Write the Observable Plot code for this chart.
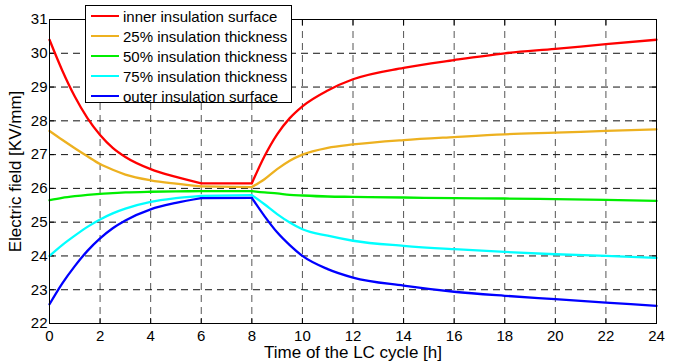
<!DOCTYPE html>
<html>
<head>
<meta charset="utf-8">
<script src="https://cdn.jsdelivr.net/npm/d3@7"></script>
<script src="https://cdn.jsdelivr.net/npm/@observablehq/plot@0.6"></script>
<style>
  html, body { margin: 0; padding: 0; background: #fff; }
  #wrap { position: relative; width: 685px; height: 364px; font-family: "Liberation Sans", Arial, sans-serif; }
  #legend { position: absolute; left: 85px; top: 5px; width: 205px; height: 96px; border: 1px solid #000; background: #fff; box-sizing: content-box; }
  .row { position: absolute; left: 0; height: 20px; display: flex; align-items: center; font-size: 15px; color: #000; white-space: nowrap; }
  .sw { display: inline-block; width: 28px; height: 2.5px; margin-left: 5px; margin-right: 4px; }
</style>
</head>
<body>
<div id="wrap"></div>
<script>
const seriesNames = ["inner insulation surface", "25% insulation thickness", "50% insulation thickness", "75% insulation thickness", "outer insulation surface"];
const seriesColors = ["#ff0000", "#edb120", "#00ee00", "#00ffff", "#0000ff"];
const hours = [0, 0.5, 1, 1.5, 2, 2.5, 3, 4, 5, 6, 8, 8.5, 9, 9.5, 10, 11, 12, 14, 16, 18, 20, 22, 24];
const inner = [30.4, 29.5, 28.72, 28.08, 27.58, 27.2, 26.93, 26.57, 26.34, 26.15, 26.15, 26.95, 27.6, 28.08, 28.43, 28.9, 29.23, 29.57, 29.8, 30.0, 30.13, 30.27, 30.4];
const q25 = [27.7, 27.44, 27.19, 26.95, 26.72, 26.55, 26.41, 26.24, 26.14, 26.06, 26.04, 26.27, 26.57, 26.82, 27.0, 27.2, 27.3, 27.43, 27.52, 27.6, 27.65, 27.7, 27.75];
const q50 = [25.65, 25.72, 25.77, 25.81, 25.84, 25.86, 25.88, 25.9, 25.91, 25.92, 25.92, 25.88, 25.85, 25.81, 25.79, 25.76, 25.75, 25.73, 25.71, 25.7, 25.68, 25.66, 25.63];
const q75 = [24.0, 24.32, 24.6, 24.86, 25.08, 25.26, 25.4, 25.6, 25.71, 25.78, 25.8, 25.53, 25.24, 24.99, 24.79, 24.6, 24.45, 24.3, 24.2, 24.12, 24.05, 24.0, 23.94];
const outer = [22.57, 23.18, 23.7, 24.15, 24.52, 24.82, 25.05, 25.38, 25.57, 25.71, 25.72, 25.18, 24.7, 24.32, 24.0, 23.61, 23.36, 23.12, 22.94, 22.82, 22.72, 22.62, 22.52];
// phases of the load cycle: decay, plateau, recovery
const phases = [[0, 6], [6, 8], [8, 24]];
const xTicks = [0, 2, 4, 6, 8, 10, 12, 14, 16, 18, 20, 22, 24];
const yTicks = [22, 23, 24, 25, 26, 27, 28, 29, 30, 31];

const allSeries = [inner, q25, q50, q75, outer];
const data = [];
allSeries.forEach((vals, i) => {
  phases.forEach(([a, b], p) => {
    vals.forEach((v, j) => {
      if (hours[j] >= a && hours[j] <= b) data.push({series: seriesNames[i], seg: seriesNames[i] + "|" + p, t: hours[j], e: v});
    });
  });
});

const font = "Liberation Sans, Arial, sans-serif";
const chart = Plot.plot({
  width: 685,
  height: 364,
  marginLeft: 49,
  marginRight: 29,
  marginTop: 19,
  marginBottom: 41,
  style: {fontFamily: font, fontSize: "15px", color: "#000", background: "#fff"},
  x: {domain: [0, 24]},
  y: {domain: [22, 31]},
  color: {domain: seriesNames, range: seriesColors},
  marks: [
    Plot.gridX(xTicks, {stroke: "#555", strokeOpacity: 1, strokeWidth: 1, strokeDasharray: "7,5"}),
    Plot.gridY(yTicks, {stroke: "#111", strokeOpacity: 1, strokeWidth: 1, strokeDasharray: "7,5"}),
    Plot.axisX(xTicks, {tickSize: -5, tickPadding: 12, fontSize: 15, label: "Time of the LC cycle [h]", labelAnchor: "center", labelArrow: "none", labelOffset: 34}),
    Plot.axisY(yTicks, {tickSize: -5, tickPadding: 7, fontSize: 15, label: "Electric field [KV/mm]", labelAnchor: "center", labelArrow: "none", labelOffset: 41}),
    Plot.axisX(xTicks, {anchor: "top", tickSize: -5, tickFormat: () => "", label: null}),
    Plot.axisY(yTicks, {anchor: "right", tickSize: -5, tickFormat: () => "", label: null}),
    Plot.line(data, {x: "t", y: "e", z: "seg", stroke: "series", strokeWidth: 2.3, curve: "monotone-x"}),
    Plot.frame({stroke: "#000", strokeWidth: 1})
  ]
});
chart.querySelectorAll("g[aria-label$='axis label'] text").forEach(t => t.setAttribute("font-size", "17"));

const wrap = document.getElementById("wrap");
wrap.appendChild(chart);

const legend = document.createElement("div");
legend.id = "legend";
seriesNames.forEach((name, i) => {
  const row = document.createElement("div");
  row.className = "row";
  row.style.top = (i * 20) + "px";
  const sw = document.createElement("span");
  sw.className = "sw";
  sw.style.background = seriesColors[i];
  const tx = document.createElement("span");
  tx.textContent = name;
  row.appendChild(sw);
  row.appendChild(tx);
  legend.appendChild(row);
});
wrap.appendChild(legend);
</script>
</body>
</html>
